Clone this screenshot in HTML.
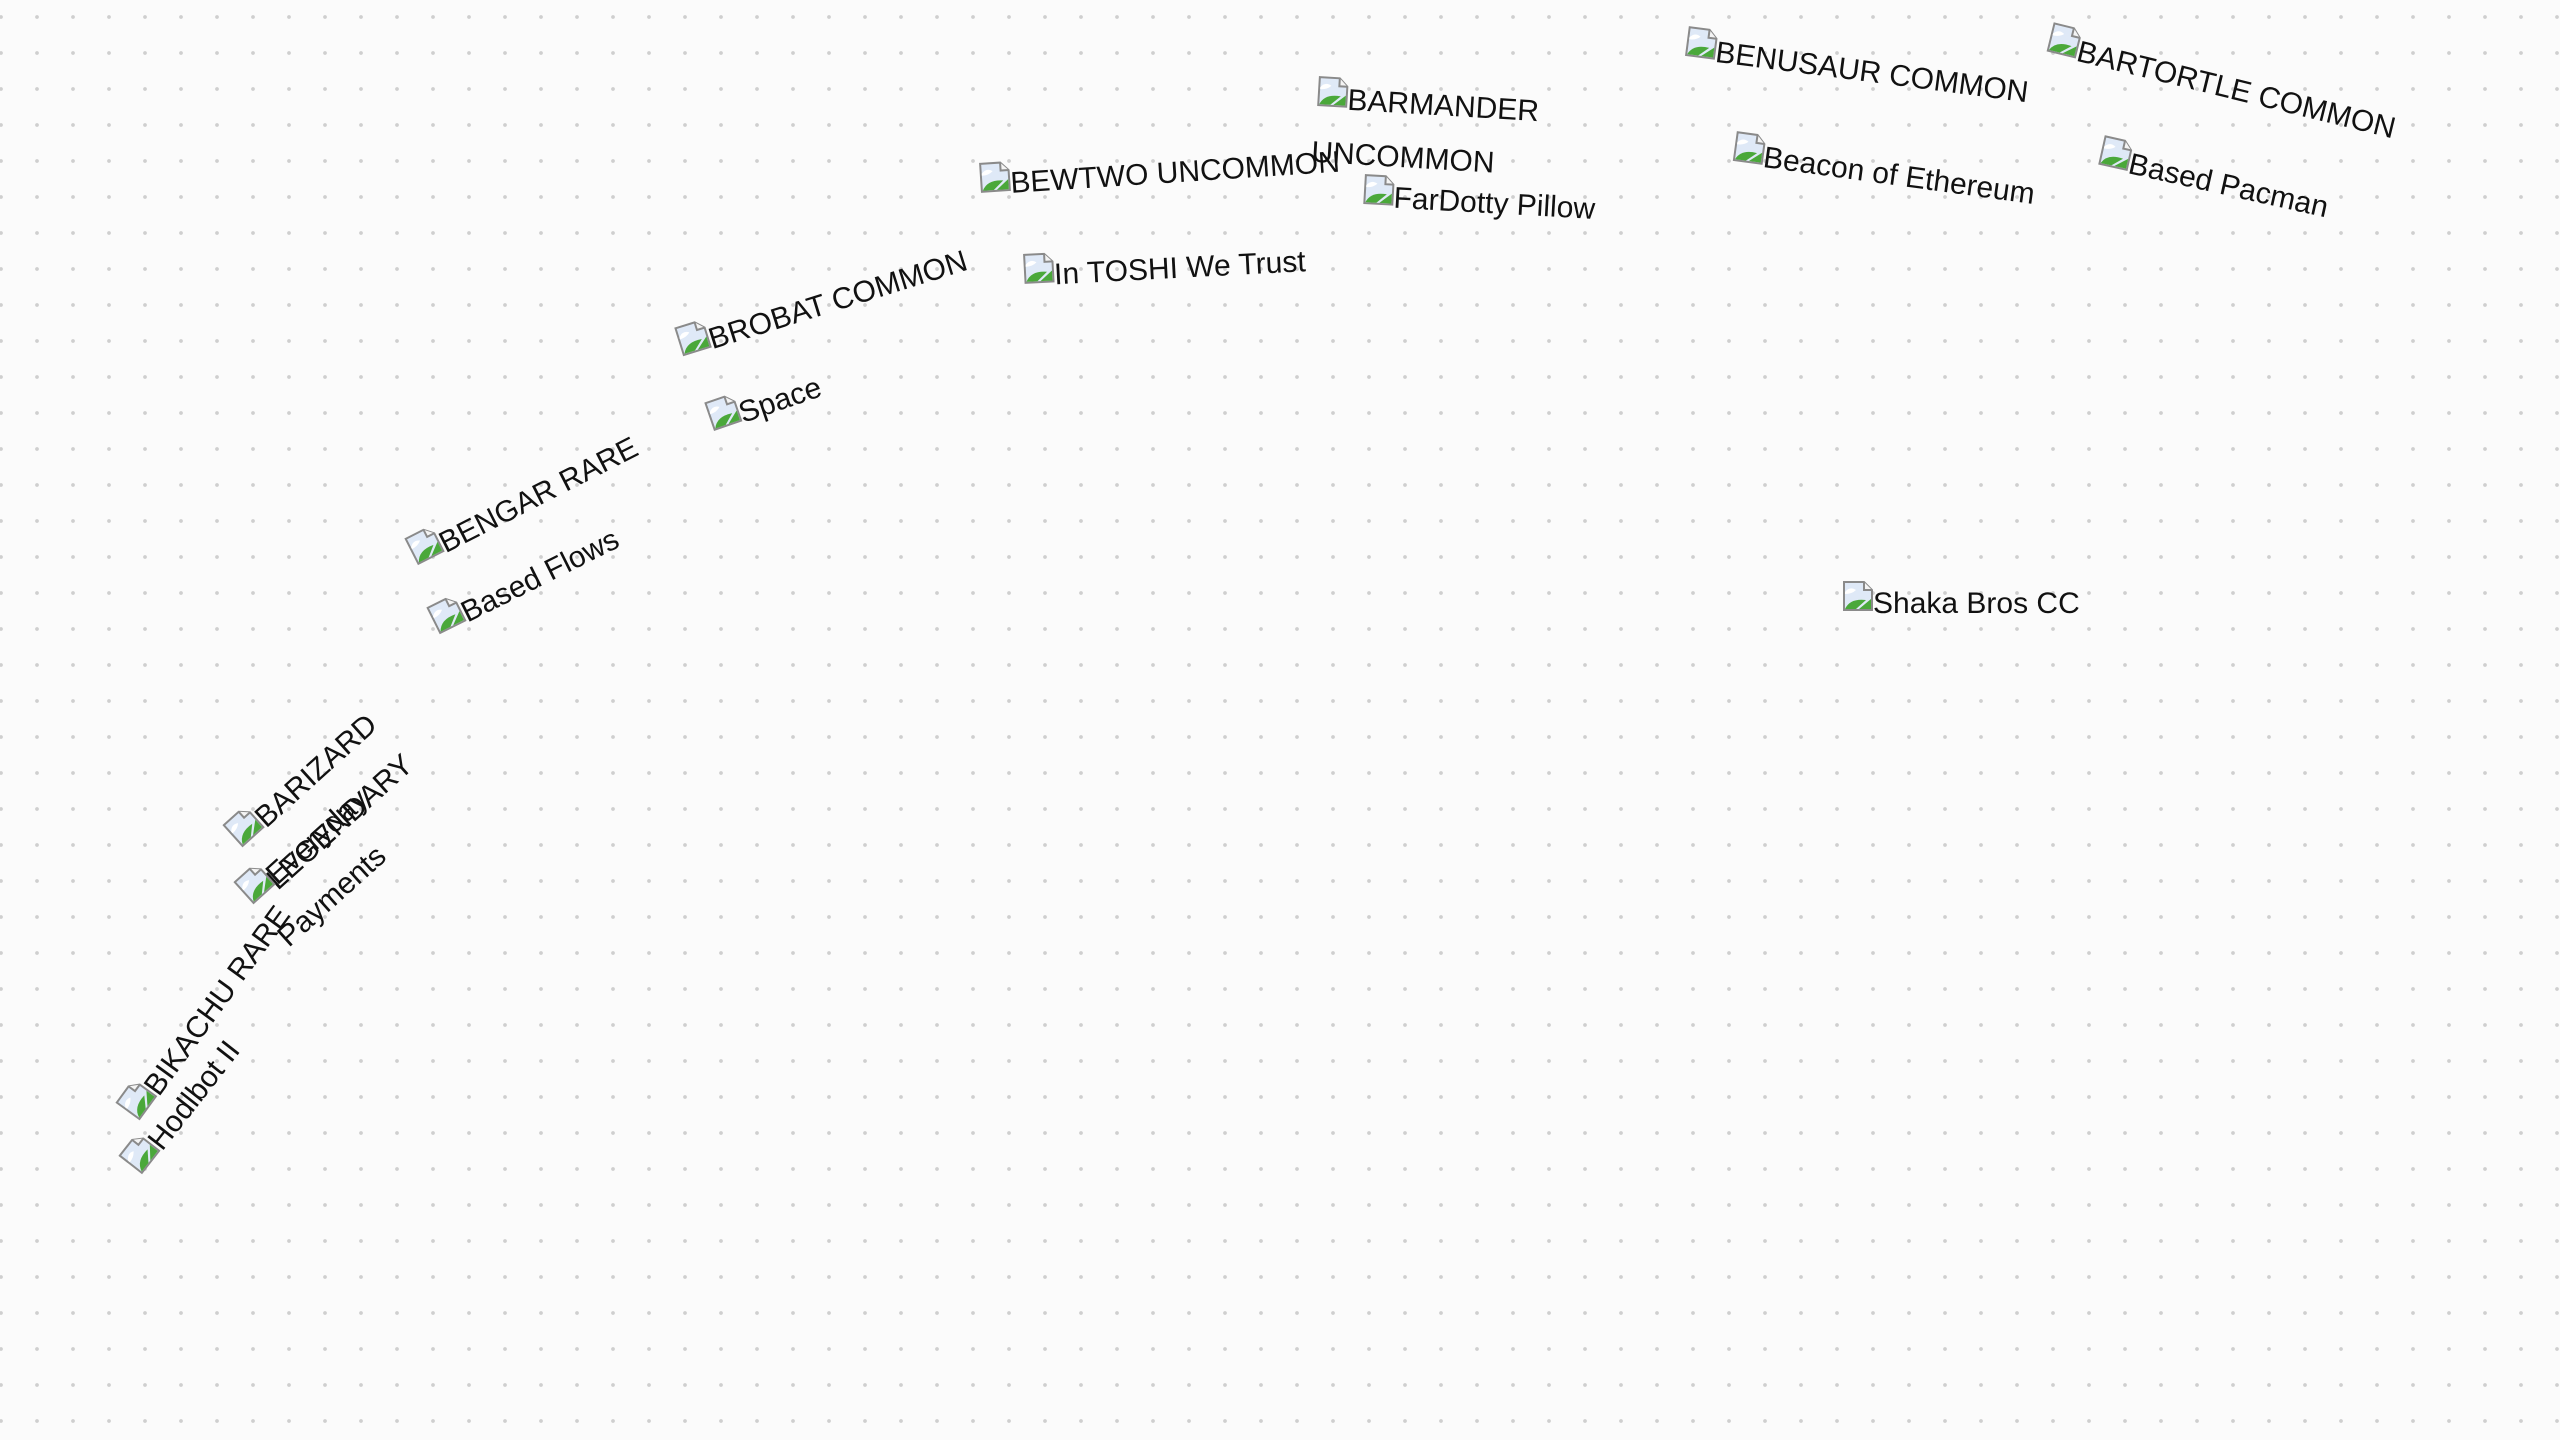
<!DOCTYPE html>
<html><head><meta charset="utf-8">
<style>
html,body{margin:0;padding:0}
body{width:2560px;height:1440px;overflow:hidden;position:relative;
background-color:#fbfbfb;
background-image:radial-gradient(circle at 18px 18px,#cfcfcf 1.6px,transparent 2.2px);
background-size:36px 36px;background-position:-17px -1px;
font-family:"Liberation Sans",sans-serif;color:#111}
.it{position:absolute;transform-origin:0 0;white-space:nowrap}
.it svg{position:absolute;left:0;top:0;width:32px;height:32px}
.it span{position:absolute;left:31px;top:9px;font-size:30px;line-height:29px}
.it span.l2{left:-2px;top:63px}
</style></head><body>
<svg width="0" height="0" style="position:absolute">
<defs>
<symbol id="ic" viewBox="0 0 32 32">
<path d="M2 2 H22 L30 10 V30 H2 Z" fill="#dfe9f7" stroke="#8a8a8a" stroke-width="2"/>
<path d="M22 2 V10 H30" fill="#f4f4f4" stroke="#8a8a8a" stroke-width="2"/>
<path d="M3 12 Q8 6 14 10 Q10 14 3 14 Z" fill="#fff"/>
<path d="M3 29 Q8 18 24 20 L14 29 Z" fill="#4aa83a"/>
<path d="M17 29 L29 19 V29 Z" fill="#4aa83a"/>
</symbol>
</defs>
</svg>

<div class="it" style="left:1842px;top:580px;transform:rotate(0deg)"><svg><use href="#ic"/></svg><span>Shaka Bros CC</span></div>

<div class="it" style="left:1688px;top:25px;transform:rotate(7.4deg)"><svg><use href="#ic"/></svg><span>BENUSAUR COMMON</span></div>
<div class="it" style="left:2053px;top:21px;transform:rotate(13.8deg)"><svg><use href="#ic"/></svg><span>BARTORTLE COMMON</span></div>
<div class="it" style="left:1736px;top:130px;transform:rotate(7.8deg)"><svg><use href="#ic"/></svg><span>Beacon of Ethereum</span></div>
<div class="it" style="left:2104px;top:134px;transform:rotate(12.6deg)"><svg><use href="#ic"/></svg><span>Based Pacman</span></div>

<div class="it" style="left:1318px;top:75px;transform:rotate(3.4deg)"><svg><use href="#ic"/></svg><span>BARMANDER</span><span class="l2">UNCOMMON</span></div>
<div class="it" style="left:1364px;top:173px;transform:rotate(3.2deg)"><svg><use href="#ic"/></svg><span>FarDotty Pillow</span></div>

<div class="it" style="left:978px;top:162px;transform:rotate(-3.7deg)"><svg><use href="#ic"/></svg><span>BEWTWO UNCOMMON</span></div>
<div class="it" style="left:1022px;top:253px;transform:rotate(-3deg)"><svg><use href="#ic"/></svg><span>In TOSHI We Trust</span></div>

<div class="it" style="left:673px;top:327px;transform:rotate(-17.3deg)"><svg><use href="#ic"/></svg><span>BROBAT COMMON</span></div>
<div class="it" style="left:703px;top:402px;transform:rotate(-19deg)"><svg><use href="#ic"/></svg><span>Space</span></div>

<div class="it" style="left:403px;top:538px;transform:rotate(-27deg)"><svg><use href="#ic"/></svg><span>BENGAR RARE</span></div>
<div class="it" style="left:425px;top:607px;transform:rotate(-26.5deg)"><svg><use href="#ic"/></svg><span>Based Flows</span></div>

<div class="it" style="left:221px;top:825px;transform:rotate(-42deg)"><svg><use href="#ic"/></svg><span>BARIZARD</span><span class="l2">LEGENDARY</span></div>
<div class="it" style="left:232px;top:882px;transform:rotate(-42deg)"><svg><use href="#ic"/></svg><span>Everyday</span><span class="l2">Payments</span></div>

<div class="it" style="left:114px;top:1103px;transform:rotate(-54deg)"><svg><use href="#ic"/></svg><span>BIKACHU RARE</span></div>
<div class="it" style="left:117px;top:1156px;transform:rotate(-52deg)"><svg><use href="#ic"/></svg><span>Hodlbot II</span></div>
</body></html>
